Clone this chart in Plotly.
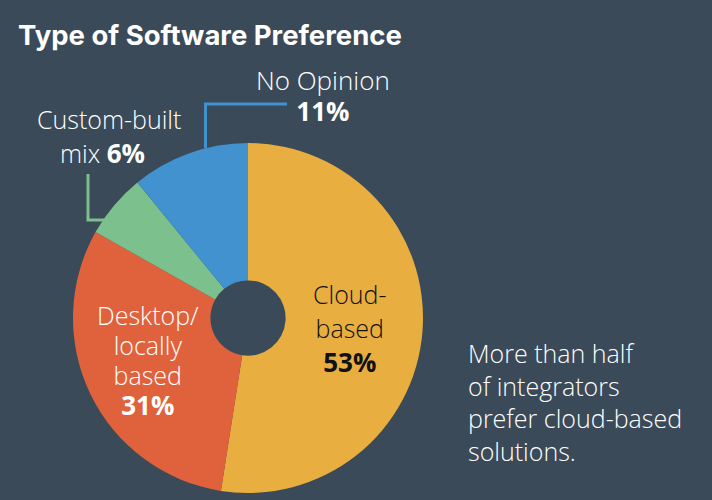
import plotly.graph_objects as go

# --- data ---
categories = ["Cloud-based", "Desktop/locally based", "Custom-built mix", "No Opinion"]
shares = [53, 31, 6, 11]
slice_colors = ["#e8ae40", "#e0623d", "#7cc08e", "#4192cf"]
remark_lines = ["More than half", "of integrators", "prefer cloud-based", "solutions."]

BG = "#3b4a58"
W, H = 712, 500


def px(x, y):
    """pixel position -> paper coords (margins are zero)"""
    return x / W, 1 - y / H


# pie centred at (248, 318) px with radius ~175 px
cx, cy, r = 248, 318, 175
x0, y0 = px(cx - r, cy + r)
x1, y1 = px(cx + r, cy - r)

fig = go.Figure(go.Pie(
    labels=categories,
    values=shares,
    marker=dict(colors=slice_colors, line=dict(width=0)),
    hole=0.215,
    sort=False,
    direction="clockwise",
    rotation=0,
    textinfo="none",
    hoverinfo="label+percent",
    showlegend=False,
    domain=dict(x=[x0, x1], y=[y0, y1]),
))

label_font = "'Open Sans', Lato, sans-serif"


def sized(text, size):
    return f"<span style='font-size:{size}px'>{text}</span>"


def pct(v):
    return sized(f"<b>{v}%</b>", 26)


def note(x, y, lines, base=25, word=25, color="white", xanchor="center"):
    # line spacing in plotly is 1.3 x the base font size, so `base`
    # sets the spacing while `word` sets the glyph size
    text = "<br>".join(l if l.startswith("<span") else sized(l, word) for l in lines)
    ax, ay = px(x, y)
    fig.add_annotation(
        x=ax, y=ay, xref="paper", yref="paper", text=text,
        showarrow=False, xanchor=xanchor, yanchor="middle",
        align="left" if xanchor == "left" else ("right" if xanchor == "right" else "center"),
        font=dict(family=label_font, size=base, color=color, weight=300),
    )


# slice labels
note(148, 360, ["Desktop/", "locally", "based", pct(shares[1])], base=23)
note(350, 328, ["Cloud-", "based", pct(shares[0])], base=26, color="#111111")
note(323, 96, ["No Opinion", pct(shares[3])], base=24, word=26)
note(183, 119, ["Custom-built"], xanchor="right")
note(147, 153, [f"mix {pct(shares[2])}"], xanchor="right")

# side remark
note(466, 402, remark_lines, base=25, xanchor="left")

# leader lines
def leader(points, color):
    path = "M " + " L ".join(f"{px(x, y)[0]},{px(x, y)[1]}" for x, y in points)
    fig.add_shape(type="path", path=path, xref="paper", yref="paper",
                  line=dict(color=color, width=3))


leader([(205.5, 148), (205.5, 104), (287, 104)], slice_colors[3])
leader([(88, 174), (88, 220), (104, 220)], slice_colors[2])

fig.update_layout(
    title=dict(
        text="<b>Type of Software Preference</b>",
        x=18 / W, xanchor="left", y=1 - 35 / H, yanchor="middle",
        font=dict(family="Inter, 'Open Sans', sans-serif", size=27.5, color="white"),
    ),
    paper_bgcolor=BG,
    plot_bgcolor=BG,
    margin=dict(l=0, r=0, t=0, b=0),
    width=W,
    height=H,
)

# drop the page's default body margin so the chart sits at 0,0
fig.write_html("out.html", config={"displayModeBar": False},
               post_script="document.body.style.margin='0';")
